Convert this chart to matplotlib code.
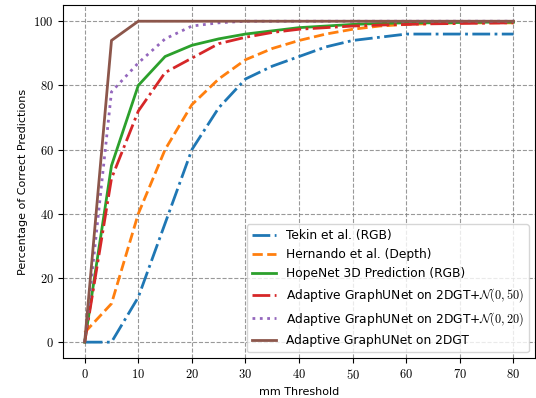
import matplotlib
matplotlib.use("Agg")
import matplotlib.pyplot as plt
from matplotlib.ticker import FuncFormatter

plt.rcParams['mathtext.fontset'] = 'cm'

# mm thresholds
thresholds = [0, 5, 10, 15, 20, 25, 30, 35, 40, 45, 50, 55, 60, 65, 70, 75, 80]

tekin = [0, 0, 14, 37, 60, 73, 82, 86, 89, 92, 94, 95, 96, 96, 96, 96, 96]
hernando = [3, 12, 40, 60, 74, 82, 88, 91.5, 94, 96, 97.5, 98.5, 99, 99.3, 99.5, 99.5, 99.5]
hopenet = [0, 55, 80, 89, 92.5, 94.5, 96, 97, 98, 98.5, 99, 99.3, 99.5, 99.5, 99.6, 99.7, 99.7]
gu_n50 = [0, 51, 72, 84, 88.5, 93, 95, 96.5, 97.5, 98, 98.5, 98.8, 99, 99.2, 99.3, 99.4, 99.5]
gu_n20 = [0, 78, 87, 94.5, 98.5, 99.5, 100, 100, 100, 100, 100, 100, 100, 100, 100, 100, 100]
gu_gt = [0, 94, 100, 100, 100, 100, 100, 100, 100, 100, 100, 100, 100, 100, 100, 100, 100]

labels = [
    'Tekin et al. (RGB)',
    'Hernando et al. (Depth)',
    'HopeNet 3D Prediction (RGB)',
    r'Adaptive GraphUNet on 2DGT+$\mathcal{N}(0,50)$',
    r'Adaptive GraphUNet on 2DGT+$\mathcal{N}(0,20)$',
    'Adaptive GraphUNet on 2DGT',
]

fig = plt.figure(figsize=(5.36, 3.98), dpi=100)
ax = fig.add_axes([0.118, 0.10, 0.88, 0.887])

lw = 2
ax.plot(thresholds, tekin, color='C0', linestyle='-.', lw=lw, label=labels[0])
ax.plot(thresholds, hernando, color='C1', linestyle='--', lw=lw, label=labels[1])
ax.plot(thresholds, hopenet, color='C2', linestyle='-', lw=lw, label=labels[2])
ax.plot(thresholds, gu_n50, color='C3', linestyle='-.', lw=lw, label=labels[3])
ax.plot(thresholds, gu_n20, color='C4', linestyle=':', lw=lw, label=labels[4])
ax.plot(thresholds, gu_gt, color='C5', linestyle='-', lw=lw, label=labels[5])

ax.set_xticks(range(0, 81, 10))
ax.set_yticks(range(0, 101, 20))
fmt = FuncFormatter(lambda v, p: r'$%d$' % v)
ax.xaxis.set_major_formatter(fmt)
ax.yaxis.set_major_formatter(fmt)
ax.tick_params(labelsize=9)

ax.grid(True, linestyle='--', color='gray', alpha=0.8)
ax.set_xlabel('mm Threshold', fontsize=8)
ax.set_ylabel('Percentage of Correct Predictions', fontsize=8)
ax.legend(loc='lower right', fontsize=8.8)

fig.savefig('out.png', dpi=100)
